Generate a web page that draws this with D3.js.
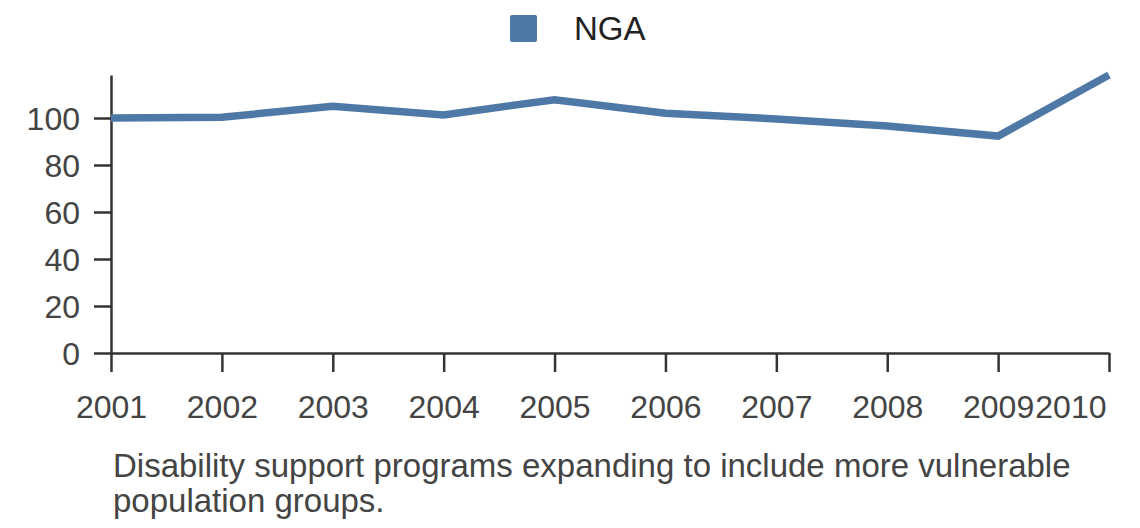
<!DOCTYPE html>
<html lang="en">
<head>
    <title>NGA line</title>
    <script src="https://d3js.org/d3.v7.min.js"></script>
    <style>
        body { margin: 0; background: #fff; }
        text { font-family: "Liberation Sans", Arial, sans-serif; }
    </style>
</head>
<body>
    <script>
        // data
        var years = [2001, 2002, 2003, 2004, 2005, 2006, 2007, 2008, 2009, 2010];
        var values = [100, 100.3, 105, 101.3, 107.8, 102, 99.6, 96.6, 92.3, 118.3];
        var yTicks = [0, 20, 40, 60, 80, 100];
        var seriesName = "NGA";
        var caption = ["Disability support programs expanding to include more vulnerable",
                       "population groups."];

        var width = 1140, height = 528;
        // plot box (avoid "top" - clashes with window.top)
        var mLeft = 111, mRight = 1109, mTop = 75, mBottom = 353;
        var color = "#4e79a7", ink = "#333", label = "#444";

        var svg = d3.select("body").append("svg")
            .attr("width", width)
            .attr("height", height);

        var x = d3.scaleLinear().domain(d3.extent(years)).range([mLeft, mRight]);
        var y = d3.scaleLinear().domain([0, d3.max(values)]).range([mBottom, mTop]);

        // y axis
        var yAxis = svg.append("g")
            .attr("transform", "translate(" + mLeft + ",0)")
            .call(d3.axisLeft(y).tickValues(yTicks).tickSize(17).tickPadding(14).tickSizeOuter(0));

        // x axis
        var xAxis = svg.append("g")
            .attr("transform", "translate(0," + mBottom + ")")
            .call(d3.axisBottom(x).tickValues(years).tickFormat(d3.format("d"))
                .tickSize(19).tickPadding(23).tickSizeOuter(0));

        [yAxis, xAxis].forEach(function (g) {
            g.select(".domain").attr("stroke", ink).attr("stroke-width", 2.5);
            g.selectAll(".tick line").attr("stroke", ink).attr("stroke-width", 2.5);
            g.selectAll(".tick text")
                .attr("fill", label)
                .style("font-size", "32px")
                .style("font-family", "'Liberation Sans', Arial, sans-serif");
        });
        yAxis.selectAll(".tick text").attr("dy", "0.36em");
        // last year label sits flush with the axis end, touching 2009
        xAxis.selectAll(".tick text")
            .filter(function (d) { return d === years[years.length - 1]; })
            .attr("text-anchor", "end")
            .attr("dx", -3);

        // the line
        var line = d3.line()
            .x(function (d, i) { return x(years[i]); })
            .y(function (d) { return y(d); });

        svg.append("path")
            .datum(values)
            .attr("fill", "none")
            .attr("stroke", color)
            .attr("stroke-width", 7.5)
            .attr("stroke-linejoin", "miter")
            .attr("d", line);

        // legend
        svg.append("rect")
            .attr("x", 510).attr("y", 15)
            .attr("width", 27).attr("height", 27)
            .attr("rx", 2)
            .attr("fill", color);
        svg.append("text")
            .attr("x", 574).attr("y", 40)
            .attr("fill", "#222")
            .style("font-size", "33px")
            .text(seriesName);

        // caption
        svg.selectAll(".caption")
            .data(caption)
            .enter().append("text")
            .attr("class", "caption")
            .attr("x", 113)
            .attr("y", function (d, i) { return 477 + i * 35; })
            .attr("fill", label)
            .style("font-size", "33px")
            .text(function (d) { return d; });
    </script>
</body>
</html>
